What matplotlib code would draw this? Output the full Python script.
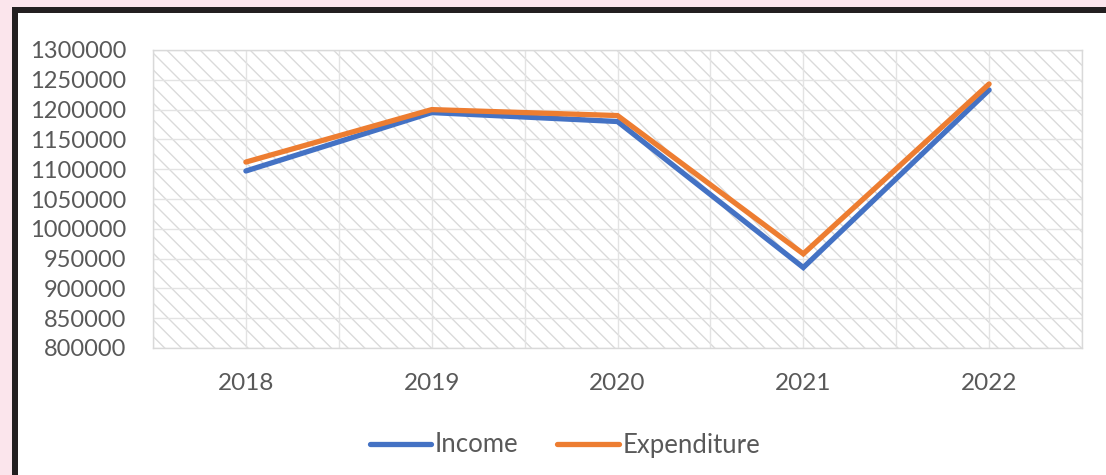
import matplotlib.pyplot as plt
from matplotlib.patches import Rectangle
from matplotlib.ticker import MultipleLocator

years = ["2018", "2019", "2020", "2021", "2022"]
income = [1097000, 1195000, 1180000, 935000, 1233000]
expenditure = [1112000, 1200000, 1190000, 958000, 1243000]

y_ticks = list(range(800000, 1300001, 50000))

plt.rcParams['font.family'] = ['Lato', 'DejaVu Sans']
plt.rcParams['hatch.color'] = '#dadada'
plt.rcParams['hatch.linewidth'] = 1.0

W, H = 1106, 475
fig = plt.figure(figsize=(W / 100, H / 100), dpi=100)
fig.patch.set_facecolor('#fbe5ec')

# dark frame and white card
fig.add_artist(Rectangle((12 / W, 0), 1.0, 1 - 7 / H, transform=fig.transFigure,
                         facecolor='#231f20', edgecolor='none', zorder=0))
fig.add_artist(Rectangle((18 / W, 0), 1.0, 1 - 13 / H, transform=fig.transFigure,
                         facecolor='white', edgecolor='none', zorder=0))

ax = fig.add_axes([153 / W, 1 - 348 / H, (1082 - 153) / W, (348 - 50) / H])
ax.set_facecolor('white')
ax.add_patch(Rectangle((0, 0), 1, 1, transform=ax.transAxes, facecolor='white',
                       edgecolor='#dadada', hatch='\\\\', linewidth=0, zorder=0))

x = list(range(len(years)))
ax.plot(x, income, color='#4472c4', lw=3.8, solid_capstyle='round',
        solid_joinstyle='miter', label='Income', zorder=3)
ax.plot(x, expenditure, color='#ed7d31', lw=3.8, solid_capstyle='round',
        solid_joinstyle='miter', label='Expenditure', zorder=3)

ax.set_xlim(-0.5, len(years) - 0.5)
ax.set_ylim(800000, 1300000)
ax.set_xticks(x)
ax.set_xticklabels(years)
ax.set_yticks(y_ticks)
ax.set_yticklabels([str(v) for v in y_ticks])
ax.xaxis.set_minor_locator(MultipleLocator(0.5))

ax.grid(True, which='both', axis='x', color='#e3e3e3', lw=1.0, zorder=1)
ax.grid(True, which='major', axis='y', color='#e3e3e3', lw=1.0, zorder=1)
ax.set_axisbelow(True)

for s in ax.spines.values():
    s.set_color('#d9d9d9')
    s.set_linewidth(1.0)

ax.tick_params(axis='both', which='both', length=0, labelsize=17,
               labelcolor='#595959')
ax.tick_params(axis='y', pad=19)
ax.tick_params(axis='x', labelsize=17.5, pad=18)

fig.legend(loc='center', bbox_to_anchor=(565 / W, 1 - 445 / H), ncol=2,
           frameon=False, fontsize=18.5, labelcolor='#595959',
           handlelength=2.4, handletextpad=0.15, columnspacing=1.5)

fig.savefig('out.png', dpi=100, facecolor=fig.get_facecolor())
